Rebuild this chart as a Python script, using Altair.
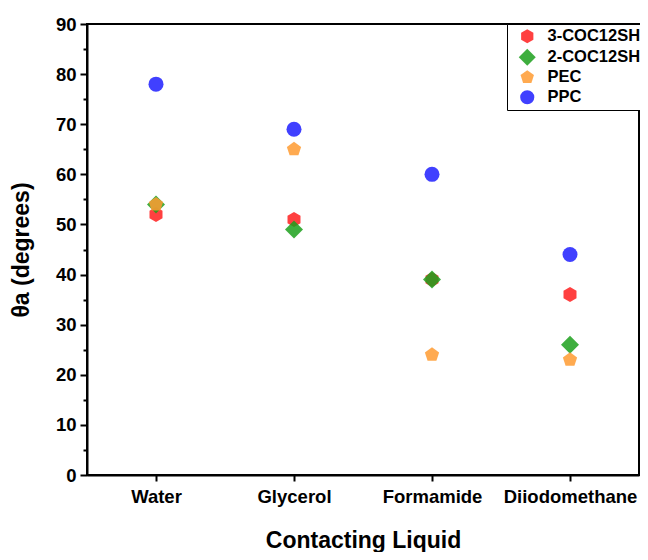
import altair as alt
import pandas as pd

liquids = ["Water", "Glycerol", "Formamide", "Diiodomethane"]
series = ["3-COC12SH", "2-COC12SH", "PEC", "PPC"]
vals_3coc = [52, 51, 39, 36]
vals_2coc = [54, 49, 39, 26]
vals_pec = [54, 65, 24, 23]
vals_ppc = [78, 69, 60, 44]

rows = []
for name, vals in zip(series, [vals_3coc, vals_2coc, vals_pec, vals_ppc]):
    for liq, v in zip(liquids, vals):
        rows.append({"liquid": liq, "sample": name, "theta": v})
df = pd.DataFrame(rows)

hexagon = "M0,-1L0.866,-0.5L0.866,0.5L0,1L-0.866,0.5L-0.866,-0.5Z"
diamond = "M0,-1.2L1.2,0L0,1.2L-1.2,0Z"
pentagon = "M0,-1L0.951,-0.309L0.588,0.809L-0.588,0.809L-0.951,-0.309Z"
colors = ["#FF1E1E", "#1CA01C", "#FF9B31", "#1E1EFF"]

FONT = "Liberation Sans"

chart = alt.Chart(df).mark_point(filled=True, size=225, opacity=0.85, strokeWidth=0).encode(
    x=alt.X("liquid:N", sort=liquids,
            scale=alt.Scale(type="point", padding=0.5),
            axis=alt.Axis(title="Contacting Liquid", labelAngle=0, tickSize=6,
                          labelPadding=6, titlePadding=24)),
    y=alt.Y("theta:Q", scale=alt.Scale(domain=[0, 90], nice=False, zero=True),
            axis=alt.Axis(title="θa (degrees)", values=list(range(0, 91, 5)),
                          labelExpr="datum.value % 10 === 0 ? datum.label : ''",
                          tickSize={"condition": {"test": "datum.value % 10 === 0", "value": 7}, "value": 4},
                          grid=False, labelPadding=4, titlePadding=22)),
    color=alt.Color("sample:N", scale=alt.Scale(domain=series, range=colors),
                    legend=alt.Legend(title=None, orient="none", legendX=420, legendY=0)),
    shape=alt.Shape("sample:N", scale=alt.Scale(domain=series, range=[hexagon, diamond, pentagon, "circle"]),
                    legend=alt.Legend(title=None, orient="none", legendX=420, legendY=0)),
).properties(
    width=552, height=451,
    autosize=alt.AutoSizeParams(type="none"),
    padding={"left": 79, "top": 16, "right": 1, "bottom": 77},
).configure_view(
    stroke="black", strokeWidth=2
).configure_axis(
    domainColor="black", domainWidth=2, tickColor="black", tickWidth=2,
    labelFont=FONT, labelFontSize=18.5, labelFontWeight="bold", labelColor="black",
    titleFont=FONT, titleFontSize=23, titleFontWeight="bold", titleColor="black",
).configure_legend(
    strokeColor="black", strokeWidth=1, fillColor="white", padding=4,
    symbolOffset=8, symbolSize=200, symbolStrokeWidth=0, symbolOpacity=0.85,
    labelFont=FONT, labelFontSize=16.5, labelFontWeight="bold", labelColor="black",
    labelOffset=12, rowPadding=3,
)

chart.save("out.html", embed_options={"renderer": "svg", "actions": False})
